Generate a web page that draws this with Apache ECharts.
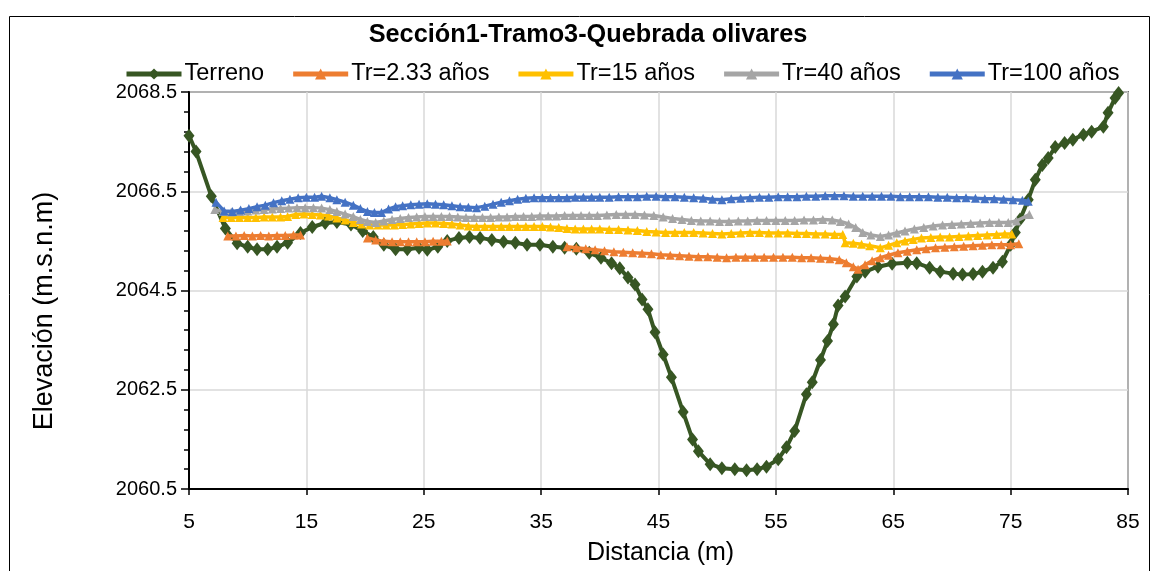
<!DOCTYPE html>
<html>
<head>
<meta charset="utf-8">
<script src="https://cdn.jsdelivr.net/npm/echarts@6/dist/echarts.min.js"></script>
<style>html,body{margin:0;padding:0;background:#fff;}#c{width:1159px;height:571px;}</style>
</head>
<body>
<div id="c"></div>
<script>
const chartTitle = 'Sección1-Tramo3-Quebrada olivares';
const xName = 'Distancia (m)';
const yName = 'Elevación (m.s.n.m)';
const seriesNames = ['Terreno', 'Tr=2.33 años', 'Tr=15 años', 'Tr=40 años', 'Tr=100 años'];

const terrenoX = [5.0,5.6,6.9,8.1,9.1,10.0,10.8,11.7,12.5,13.4,14.5,15.5,16.6,17.6,18.8,19.8,20.7,21.6,22.6,23.6,24.6,25.3,26.2,27.0,28.0,28.9,29.8,30.8,31.8,32.8,33.8,34.9,36.0,37.0,38.0,39.1,40.1,41.0,41.7,42.4,43.0,43.6,44.1,44.7,45.4,46.1,47.1,47.9,48.4,49.4,50.4,51.5,52.5,53.4,54.2,55.2,55.9,56.6,57.6,58.1,58.8,59.4,59.9,60.3,60.9,61.9,62.6,63.7,64.9,66.2,67.0,68.1,69.0,70.1,70.9,71.8,72.6,73.5,74.3,75.0,75.4,75.8,76.5,77.1,77.7,78.2,78.8,79.6,80.3,81.2,81.9,82.9,83.3,83.9,84.2];
const terrenoY = [2067.62,2067.30,2066.40,2065.75,2065.45,2065.38,2065.33,2065.33,2065.38,2065.46,2065.66,2065.78,2065.86,2065.88,2065.83,2065.70,2065.58,2065.42,2065.33,2065.33,2065.36,2065.32,2065.38,2065.50,2065.56,2065.58,2065.56,2065.52,2065.48,2065.46,2065.42,2065.42,2065.38,2065.36,2065.34,2065.26,2065.16,2065.05,2064.95,2064.76,2064.62,2064.32,2064.12,2063.66,2063.21,2062.75,2062.05,2061.50,2061.26,2061.00,2060.92,2060.90,2060.88,2060.90,2060.95,2061.10,2061.34,2061.67,2062.41,2062.65,2063.10,2063.48,2063.82,2064.20,2064.38,2064.78,2064.88,2064.98,2065.04,2065.06,2065.05,2064.96,2064.88,2064.84,2064.82,2064.83,2064.88,2064.96,2065.08,2065.42,2065.67,2065.93,2066.33,2066.73,2067.03,2067.17,2067.39,2067.47,2067.54,2067.64,2067.70,2067.80,2068.08,2068.38,2068.48];

const tr233X = [8.3,9.0,9.7,10.4,11.1,11.8,12.5,13.2,13.9,14.5,17.0,20.2,20.9,21.6,22.3,23.0,23.7,24.4,25.1,25.8,26.5,27.0,32.0,37.2,38.0,38.8,39.6,40.4,41.2,42.0,42.8,43.6,44.4,45.2,46.0,46.8,47.6,48.4,49.2,50.0,50.8,51.6,52.4,53.2,54.0,54.8,55.6,56.4,57.2,58.0,58.8,59.6,60.4,61.0,61.6,62.0,62.6,63.2,63.9,64.6,65.4,66.2,67.0,67.8,68.6,69.4,70.2,71.0,71.8,72.6,73.4,74.2,75.0,75.7];
const tr233Y = [2065.60,2065.60,2065.61,2065.60,2065.61,2065.60,2065.61,2065.61,2065.62,2065.62,'-',2065.56,2065.52,2065.49,2065.48,2065.48,2065.48,2065.48,2065.48,2065.49,2065.49,2065.50,'-',2065.38,2065.36,2065.34,2065.32,2065.30,2065.28,2065.27,2065.26,2065.25,2065.24,2065.22,2065.21,2065.20,2065.19,2065.18,2065.18,2065.17,2065.16,2065.17,2065.17,2065.17,2065.17,2065.17,2065.17,2065.17,2065.16,2065.16,2065.15,2065.14,2065.12,2065.06,2064.98,2064.93,2065.02,2065.10,2065.16,2065.21,2065.26,2065.29,2065.32,2065.34,2065.36,2065.37,2065.38,2065.39,2065.40,2065.41,2065.42,2065.42,2065.42,2065.44];

const tr15X = [7.9,8.6,9.3,10.0,10.7,11.4,12.1,12.8,13.4,14.1,14.8,15.5,16.2,16.9,17.6,18.3,19.0,19.7,20.4,21.1,21.8,22.5,23.2,23.9,24.6,25.3,26.0,26.7,27.4,28.1,28.8,29.5,30.2,30.9,31.6,32.3,33.0,33.7,34.4,35.1,35.8,36.5,37.2,37.9,38.6,39.3,40.0,40.8,41.6,42.4,43.2,44.0,44.8,45.6,46.4,47.2,48.0,48.8,49.6,50.4,51.2,52.0,52.8,53.6,54.4,55.2,56.0,56.8,57.6,58.4,59.2,60.0,60.7,60.9,61.6,62.3,63.0,63.9,64.6,65.3,66.0,66.7,67.4,68.2,69.0,69.8,70.6,71.4,72.2,73.0,73.8,74.5,75.1];
const tr15Y = [2065.97,2065.97,2065.97,2065.97,2065.97,2065.98,2065.98,2065.98,2065.99,2066.03,2066.04,2066.03,2066.02,2066.00,2065.96,2065.92,2065.87,2065.84,2065.82,2065.82,2065.82,2065.82,2065.83,2065.84,2065.85,2065.86,2065.86,2065.85,2065.84,2065.82,2065.80,2065.79,2065.79,2065.79,2065.79,2065.79,2065.79,2065.79,2065.79,2065.79,2065.78,2065.77,2065.75,2065.74,2065.74,2065.74,2065.74,2065.73,2065.73,2065.72,2065.71,2065.69,2065.68,2065.67,2065.67,2065.67,2065.67,2065.66,2065.65,2065.64,2065.65,2065.66,2065.67,2065.67,2065.66,2065.66,2065.66,2065.65,2065.65,2065.64,2065.64,2065.63,2065.63,2065.46,2065.45,2065.43,2065.40,2065.36,2065.41,2065.46,2065.50,2065.53,2065.56,2065.57,2065.58,2065.58,2065.59,2065.60,2065.61,2065.62,2065.63,2065.64,2065.64];

const tr40X = [7.2,7.9,8.6,9.3,10.0,10.7,11.4,12.1,12.8,13.5,14.2,14.9,15.6,16.3,17.0,17.6,18.3,19.0,19.6,20.2,20.9,21.6,22.3,23.0,23.7,24.4,25.1,25.8,26.5,27.2,27.9,28.6,29.3,30.0,30.7,31.4,32.1,32.8,33.5,34.2,34.9,35.6,36.3,37.0,37.7,38.4,39.1,39.8,40.6,41.4,42.2,43.0,43.8,44.6,45.4,46.2,47.0,47.8,48.6,49.4,50.2,51.0,51.8,52.6,53.4,54.2,55.0,55.8,56.6,57.4,58.2,59.0,59.8,60.5,61.2,61.8,62.4,63.1,63.9,64.6,65.3,66.0,66.8,67.6,68.4,69.2,70.0,70.8,71.6,72.4,73.2,74.0,74.8,75.5,76.6];
const tr40Y = [2066.13,2066.09,2066.08,2066.09,2066.10,2066.12,2066.13,2066.14,2066.15,2066.16,2066.17,2066.17,2066.17,2066.16,2066.13,2066.09,2066.04,2065.99,2065.93,2065.89,2065.87,2065.90,2065.93,2065.95,2065.97,2065.98,2065.99,2065.99,2065.99,2065.99,2065.98,2065.97,2065.97,2065.97,2065.97,2065.98,2065.98,2065.99,2065.99,2065.99,2066.00,2066.00,2066.00,2066.01,2066.01,2066.01,2066.01,2066.01,2066.02,2066.03,2066.03,2066.03,2066.02,2066.01,2065.98,2065.95,2065.93,2065.91,2065.90,2065.90,2065.89,2065.89,2065.90,2065.90,2065.91,2065.91,2065.91,2065.91,2065.91,2065.92,2065.92,2065.93,2065.92,2065.89,2065.84,2065.77,2065.67,2065.62,2065.59,2065.62,2065.66,2065.70,2065.74,2065.77,2065.80,2065.82,2065.83,2065.84,2065.85,2065.86,2065.87,2065.87,2065.87,2065.90,2066.03];

const tr100X = [7.3,8.0,8.7,9.4,10.1,10.8,11.5,12.2,12.9,13.6,14.3,15.0,15.7,16.3,17.0,17.6,18.3,19.0,19.6,20.2,20.8,21.4,22.0,22.6,23.2,23.9,24.6,25.3,26.0,26.7,27.4,28.1,28.8,29.5,30.2,30.9,31.6,32.3,33.0,33.7,34.4,35.1,35.8,36.5,37.2,37.9,38.6,39.3,40.0,40.8,41.6,42.4,43.2,44.0,44.8,45.6,46.4,47.2,48.0,48.8,49.6,50.4,51.2,52.0,52.8,53.6,54.4,55.2,56.0,56.8,57.6,58.4,59.2,60.0,60.8,61.6,62.4,63.2,64.0,64.8,65.6,66.4,67.2,68.0,68.8,69.6,70.4,71.2,72.0,72.8,73.6,74.4,75.2,76.0,76.5];
const tr100Y = [2066.28,2066.10,2066.09,2066.12,2066.15,2066.19,2066.22,2066.27,2066.31,2066.34,2066.37,2066.38,2066.38,2066.40,2066.37,2066.33,2066.28,2066.22,2066.15,2066.09,2066.07,2066.07,2066.14,2066.19,2066.21,2066.23,2066.24,2066.25,2066.24,2066.23,2066.21,2066.19,2066.18,2066.17,2066.20,2066.24,2066.28,2066.31,2066.34,2066.36,2066.37,2066.37,2066.37,2066.37,2066.37,2066.38,2066.38,2066.38,2066.38,2066.38,2066.39,2066.39,2066.39,2066.40,2066.40,2066.39,2066.39,2066.38,2066.37,2066.36,2066.34,2066.33,2066.35,2066.36,2066.37,2066.38,2066.38,2066.39,2066.39,2066.39,2066.40,2066.40,2066.41,2066.41,2066.41,2066.40,2066.40,2066.40,2066.40,2066.40,2066.39,2066.39,2066.39,2066.39,2066.38,2066.38,2066.37,2066.37,2066.36,2066.35,2066.35,2066.34,2066.33,2066.32,2066.30];

const xTicks = {min: 5, max: 85, step: 10};
const yTicks = {min: 2060.5, max: 2068.5, step: 2};

const colors = ['#375623', '#ED7D31', '#FFC000', '#A5A5A5', '#4472C4'];
const FONT = "'Liberation Sans', Arial, sans-serif";

function zip(xs, ys) { return xs.map((x, i) => [x, ys[i]]); }
const datasets = [zip(terrenoX, terrenoY), zip(tr233X, tr233Y), zip(tr15X, tr15Y), zip(tr40X, tr40Y), zip(tr100X, tr100Y)];

const chart = echarts.init(document.getElementById('c'), null, {renderer: 'canvas'});
const series = datasets.map((d, i) => ({
  name: seriesNames[i],
  type: 'line',
  data: d,
  connectNulls: false,
  symbol: i === 0 ? 'diamond' : 'triangle',
  symbolSize: i === 0 ? [11, 14] : [9, 9],
  showAllSymbol: true,
  lineStyle: {color: colors[i], width: i === 0 ? 4 : 3.5},
  itemStyle: {color: colors[i]},
  animation: false,
  z: 2 + i
}));

chart.setOption({
  animation: false,
  backgroundColor: '#fff',
  graphic: [
    {type: 'rect', shape: {x: 9.5, y: 16.5, width: 1140, height: 560}, style: {fill: 'none', stroke: '#000', lineWidth: 1}, silent: true},
    {type: 'text', x: 588, y: 35, style: {text: chartTitle, font: "bold 25.3px " + FONT, fill: '#000', textAlign: 'center', textVerticalAlign: 'middle'}},
    {type: 'text', x: 45, y: 311, rotation: Math.PI / 2, style: {text: yName, font: "27px " + FONT, fill: '#000', textAlign: 'center', textVerticalAlign: 'middle'}}
  ],
  legend: {
    left: 119, top: 57,
    itemWidth: 55, itemHeight: 14, itemGap: 26.5,
    lineStyle: {width: 5},
    textStyle: {fontFamily: FONT, fontSize: 23.5, color: '#000', padding: [0,0,0,-2]},
    data: seriesNames
  },
  grid: {left: 189, right: 31, top: 92, bottom: 81, show: true, borderColor: '#000', borderWidth: 1.5, containLabel: false},
  xAxis: {
    type: 'value', min: xTicks.min, max: xTicks.max, interval: xTicks.step,
    name: xName, nameLocation: 'middle', nameGap: 52,
    nameTextStyle: {fontFamily: FONT, fontSize: 25, color: '#000', padding: [0, 0, 0, 4]},
    axisLine: {show: true, lineStyle: {color: '#000', width: 2}},
    axisTick: {show: true, length: 6, lineStyle: {color: '#000', width: 1.5}},
    axisLabel: {fontFamily: FONT, fontSize: 21, color: '#000', margin: 23},
    splitLine: {show: true, lineStyle: {color: '#D9D9D9', width: 1.5}}
  },
  yAxis: {
    type: 'value', min: yTicks.min, max: yTicks.max, interval: yTicks.step,
    axisLine: {show: true, lineStyle: {color: '#000', width: 2}},
    axisTick: {show: true, length: 8, lineStyle: {color: '#000', width: 1.5}},
    minorTick: {show: true, splitNumber: 5, length: 5, lineStyle: {color: '#000', width: 1.5}},
    axisLabel: {fontFamily: FONT, fontSize: 20, color: '#000', margin: 12, formatter: v => v.toFixed(1)},
    splitLine: {show: true, lineStyle: {color: '#D9D9D9', width: 1.5}}
  },
  series: series
});
</script>
</body>
</html>
